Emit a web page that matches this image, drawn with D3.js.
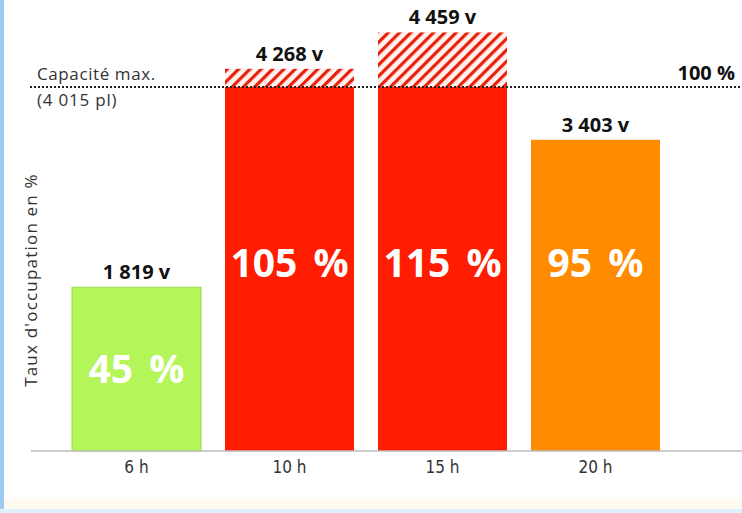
<!DOCTYPE html>
<html><head><meta charset="utf-8">
<script src="https://cdn.jsdelivr.net/npm/d3@7"></script>
<style>
html,body{margin:0;padding:0;background:#fff;}
svg{display:block;}
</style></head>
<body>
<script>
const categories = ["6 h", "10 h", "15 h", "20 h"];
const vehicles = [1819, 4268, 4459, 3403];
const percentLabels = [45, 105, 115, 95];
const drawnPercent = [45, 105, 115, 85.5];
const barColors = ["#b4f55a", "#ff1c00", "#ff1c00", "#ff8c00"];
const capacity = 100;
const capacityLabel = ["Capacité max.", "(4 015 pl)"];
const yTitle = "Taux d'occupation en %";

const W = 742, H = 513;
const svg = d3.select("body").append("svg").attr("width", W).attr("height", H);

// background frame
svg.append("rect").attr("x",0).attr("y",0).attr("width",W).attr("height",H).attr("fill","#fff");
svg.append("rect").attr("x",0).attr("y",499).attr("width",W).attr("height",10).attr("fill","#fffaf0");
svg.append("rect").attr("x",0).attr("y",0).attr("width",4).attr("height",H).attr("fill","#9ccbef");
svg.append("rect").attr("x",0).attr("y",509).attr("width",W).attr("height",4).attr("fill","#dff1fc");

const defs = svg.append("defs");
const pat = defs.append("pattern").attr("id","hatch").attr("patternUnits","userSpaceOnUse")
  .attr("width",8).attr("height",8).attr("patternTransform","rotate(45)");
pat.append("rect").attr("width",8).attr("height",8).attr("fill","#fff2ee");
pat.append("rect").attr("x",0).attr("width",3.2).attr("height",8).attr("fill","#e8200c");

const x = d3.scaleBand().domain(categories).range([60, 672]).paddingInner(0.157).paddingOuter(0.0785);
const y = d3.scaleLinear().domain([0, 100]).range([451, 87]);

const data = categories.map((c,i)=>({c, v:vehicles[i], p:percentLabels[i], d:drawnPercent[i], col:barColors[i]}));

// solid part
svg.selectAll("rect.bar").data(data).join("rect").attr("class","bar")
  .attr("x", d=>x(d.c)).attr("width", x.bandwidth())
  .attr("y", d=>y(Math.min(d.d, capacity))).attr("height", d=>y(0)-y(Math.min(d.d, capacity)))
  .attr("fill", d=>d.col)
  .attr("stroke", d=>d.d < 50 ? "#9ed84a" : "none").attr("stroke-width", 1);

// overflow hatched part
svg.selectAll("rect.over").data(data.filter(d=>d.d>capacity)).join("rect").attr("class","over")
  .attr("x", d=>x(d.c)).attr("width", x.bandwidth())
  .attr("y", d=>y(d.d)).attr("height", d=>y(capacity)-y(d.d))
  .attr("fill","url(#hatch)");

// axis
const axisG = svg.append("g").attr("transform",`translate(0,${y(0)})`);
axisG.append("line").attr("x1",31).attr("x2",W).attr("stroke","#bdbdbd").attr("stroke-width",1.5);
axisG.call(g=>{
  const ax = d3.axisBottom(x).tickSize(0).tickPadding(10);
  const gg = g.append("g").call(ax);
  gg.select(".domain").remove();
  gg.selectAll("text").attr("font-family","'DejaVu Sans Condensed', 'Liberation Sans Narrow', sans-serif")
    .attr("font-size",17).attr("fill","#333");
});

// capacity line
svg.append("line").attr("x1",30).attr("x2",W).attr("y1",y(capacity)).attr("y2",y(capacity))
  .attr("stroke","#222").attr("stroke-width",1.8).attr("stroke-dasharray","2,2");
svg.append("text").attr("x",37).attr("y",y(capacity)-7).text(capacityLabel[0])
  .attr("font-family","'Open Sans', sans-serif").attr("font-size",17).attr("letter-spacing",0.6).attr("fill","#333");
svg.append("text").attr("x",37).attr("y",y(capacity)+19).text(capacityLabel[1])
  .attr("font-family","'Open Sans', sans-serif").attr("font-size",17).attr("letter-spacing",0.8).attr("fill","#333");
svg.append("text").attr("x",735).attr("y",y(capacity)-7).attr("text-anchor","end").text(capacity + " %")
  .attr("font-family","'Open Sans', sans-serif").attr("font-size",20).attr("font-weight","bold").attr("fill","#111");

// vehicle labels
svg.selectAll("text.veh").data(data).join("text").attr("class","veh")
  .attr("x", d=>x(d.c)+x.bandwidth()/2).attr("y", d=>y(d.d)-8)
  .attr("text-anchor","middle")
  .attr("font-family","'Open Sans', sans-serif").attr("font-size",20).attr("font-weight","bold").attr("fill","#111")
  .text(d=>d3.format(",")(d.v).replace(",", " ") + " v");

// percent labels
svg.selectAll("text.pct").data(data).join("text").attr("class","pct")
  .attr("x", d=>x(d.c)+x.bandwidth()/2)
  .attr("y", d=> d.d < 50 ? y(d.d/2) : y(51.6))
  .attr("dy","0.36em")
  .attr("text-anchor","middle")
  .attr("font-family","'Open Sans', sans-serif").attr("font-size",39).attr("font-weight","bold")
  .attr("word-spacing",6).attr("fill","#fff")
  .text(d=>d.p + " %");

// y title
svg.append("text").attr("transform",`translate(37,${280}) rotate(-90)`)
  .attr("text-anchor","middle").attr("font-family","'Open Sans', sans-serif").attr("font-size",17)
  .attr("letter-spacing",1.2).attr("fill","#333")
  .text(yTitle);
</script>
</body></html>
